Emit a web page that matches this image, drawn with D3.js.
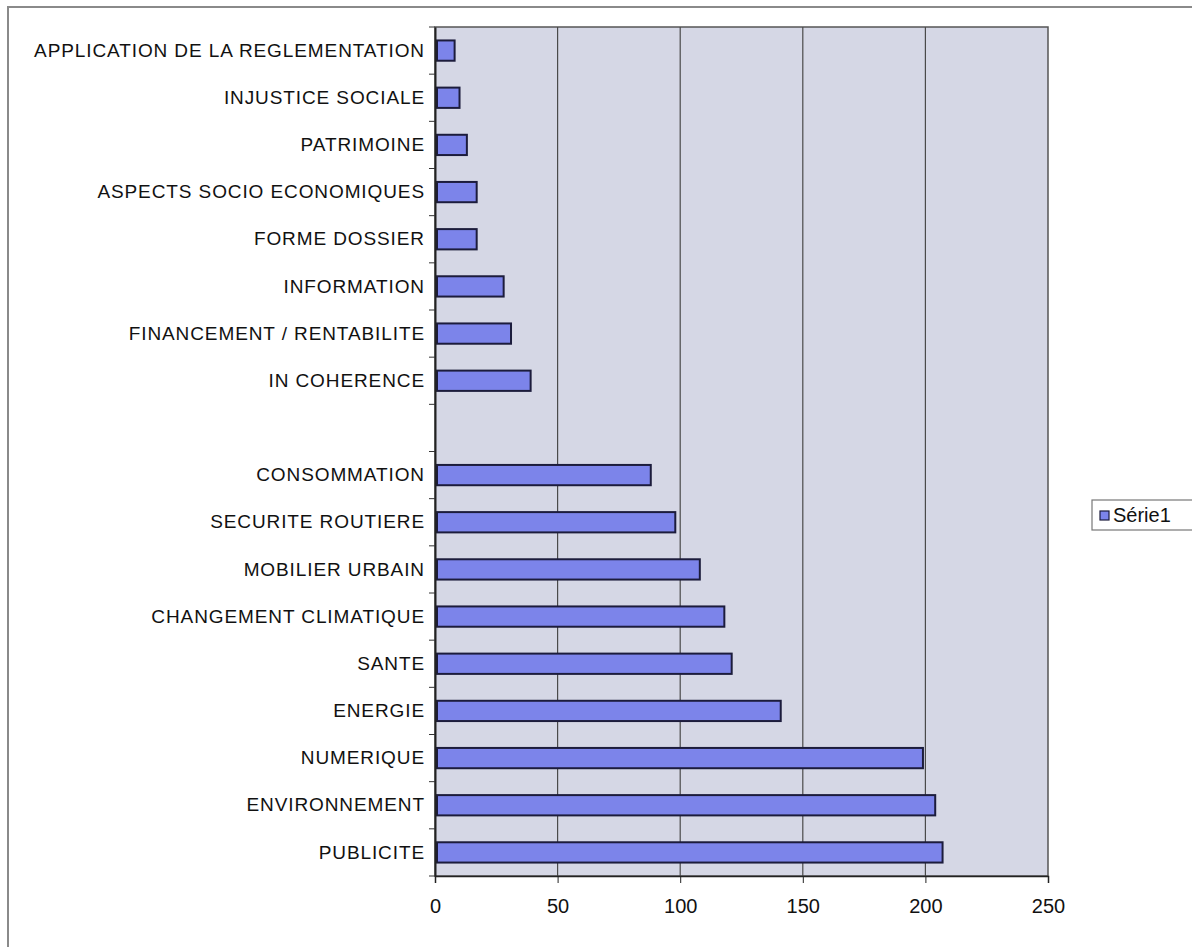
<!DOCTYPE html>
<html><head><meta charset="utf-8">
<script src="https://cdn.jsdelivr.net/npm/d3@7"></script>
<style>body{margin:0;background:#fff;} text{font-family:"Liberation Sans",Arial,sans-serif;}</style>
</head><body>
<svg id="chart" width="1192" height="947"></svg>
<script>
// Categories top to bottom ("" = empty slot)
const categories = ["APPLICATION DE LA REGLEMENTATION","INJUSTICE SOCIALE","PATRIMOINE","ASPECTS SOCIO ECONOMIQUES","FORME DOSSIER","INFORMATION","FINANCEMENT / RENTABILITE","IN COHERENCE","","CONSOMMATION","SECURITE ROUTIERE","MOBILIER URBAIN","CHANGEMENT CLIMATIQUE","SANTE","ENERGIE","NUMERIQUE","ENVIRONNEMENT","PUBLICITE"];
const values = [8,10,13,17,17,28,31,39,null,88,98,108,118,121,141,199,204,207];
const xTicks = [0,50,100,150,200,250];
const seriesName = "Série1";

const svg = d3.select("#chart");
const L = 435, R = 1048, T = 27, B = 876;

// outer chart border
svg.append("line").attr("x1",7).attr("x2",1192).attr("y1",7).attr("y2",7).attr("stroke","#8a8a8a").attr("stroke-width",2);
svg.append("line").attr("x1",8).attr("x2",8).attr("y1",7).attr("y2",947).attr("stroke","#8a8a8a").attr("stroke-width",2);

const x = d3.scaleLinear().domain([0,250]).range([L,R]);
const y = d3.scaleBand().domain(categories.map((c,i)=>i)).range([T,B]);

// plot area
svg.append("rect").attr("x",L).attr("y",T).attr("width",R-L).attr("height",B-T).attr("fill","#d5d7e5").attr("stroke","#555").attr("stroke-width",1.5);

// gridlines
svg.append("g").selectAll("line").data(xTicks.slice(1,-1)).join("line")
  .attr("x1",d=>x(d)).attr("x2",d=>x(d)).attr("y1",T).attr("y2",B).attr("stroke","#4a4a4a").attr("stroke-width",1.2);

// bars
const bh = y.step()*0.43;
svg.append("g").selectAll("rect").data(values.map((v,i)=>({v,i})).filter(d=>d.v!==null)).join("rect")
  .attr("x",x(0)+2).attr("y",d=>y(d.i)+y.step()/2-bh/2)
  .attr("width",d=>x(d.v)-x(0)-2).attr("height",bh)
  .attr("fill","#7c84ea").attr("stroke","#1c1c3c").attr("stroke-width",2);

// x axis
const xa = svg.append("g").attr("transform",`translate(0,${B})`)
  .call(d3.axisBottom(x).tickValues(xTicks).tickSize(7).tickPadding(16));
xa.select(".domain").attr("stroke","#222").attr("stroke-width",1.5);
xa.selectAll(".tick line").attr("stroke","#222");
xa.selectAll("text").attr("font-size",20).attr("fill","#111").style("font-family","Liberation Sans, Arial, sans-serif");

// y axis
const ya = svg.append("g").attr("transform",`translate(${L},0)`)
  .call(d3.axisLeft(y).tickSize(0).tickPadding(10).tickFormat(i=>categories[i]));
ya.select(".domain").attr("stroke","#222").attr("stroke-width",2);
ya.selectAll("text").attr("font-size",19).attr("letter-spacing","0.9px").attr("fill","#111").style("font-family","Liberation Sans, Arial, sans-serif");
// y tick marks at band boundaries
svg.append("g").selectAll("line").data(d3.range(categories.length+1)).join("line")
  .attr("x1",L-6).attr("x2",L).attr("y1",i=>T+i*y.step()).attr("y2",i=>T+i*y.step()).attr("stroke","#333");

// legend
const lg = svg.append("g").attr("transform","translate(1092,500)");
lg.append("rect").attr("width",106).attr("height",30).attr("fill","#fff").attr("stroke","#777").attr("stroke-width",1.2);
lg.append("rect").attr("x",8).attr("y",11).attr("width",9).attr("height",9).attr("fill","#7c84ea").attr("stroke","#1c1c3c").attr("stroke-width",1.2);
lg.append("text").attr("x",21).attr("y",22).attr("font-size",20).attr("fill","#111").text(seriesName);
</script>
</body></html>
